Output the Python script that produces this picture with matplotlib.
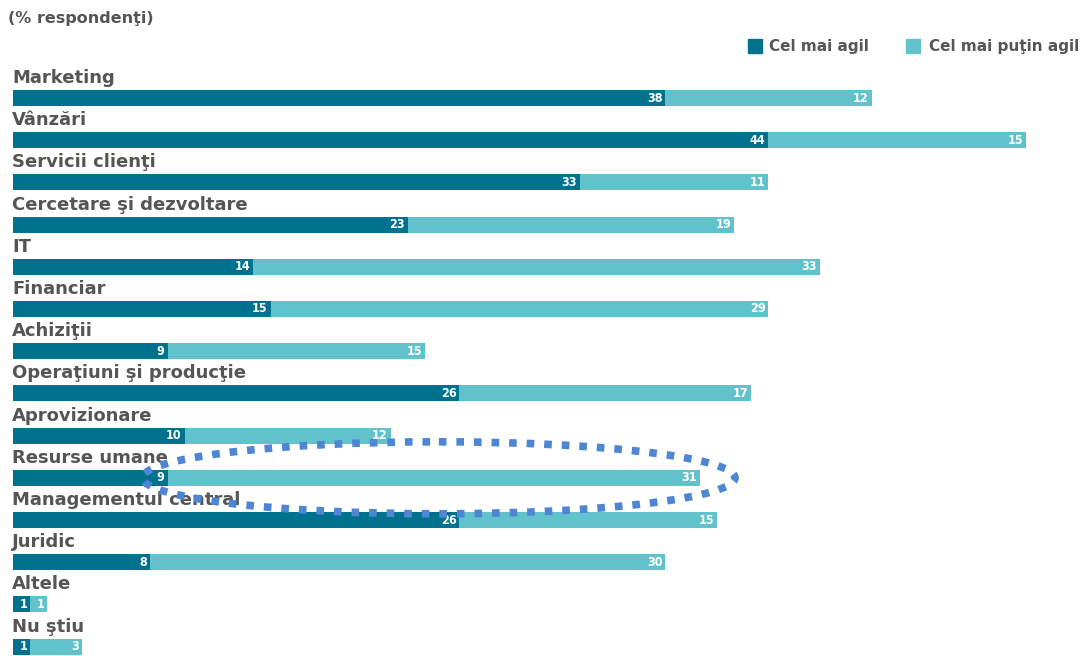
import matplotlib
matplotlib.use("Agg")
import matplotlib.pyplot as plt
from matplotlib.patches import Ellipse, Rectangle

categories = [
    "Marketing", "Vânzări", "Servicii clienţi", "Cercetare şi dezvoltare", "IT",
    "Financiar", "Achiziţii", "Operaţiuni şi producţie", "Aprovizionare",
    "Resurse umane", "Managementul central", "Juridic", "Altele", "Nu ştiu",
]
most_agile = [38, 44, 33, 23, 14, 15, 9, 26, 10, 9, 26, 8, 1, 1]
least_agile = [12, 15, 11, 19, 33, 29, 15, 17, 12, 31, 15, 30, 1, 3]
series_names = ["Cel mai agil", "Cel mai puţin agil"]
unit_note = "(% respondenţi)"
highlighted = "Resurse umane"

DARK = "#00728e"
LIGHT = "#62c2cc"
TEXT = "#555555"
RING = "#4f86d4"

W, H = 1084, 656
fig = plt.figure(figsize=(W / 100, H / 100), dpi=100)
x0 = 13
ax = fig.add_axes([x0 / W, 0, (W - x0) / W, 1])
ax.set_xlim(0, (W - x0) / 17.17)
row = 42.2
ax.set_ylim((H - 98) / row, -98 / row)
ax.axis("off")

ypos = list(range(len(categories)))
bh = 16 / row
ax.barh(ypos, most_agile, height=bh, color=DARK, zorder=2)
ax.barh(ypos, least_agile, left=most_agile, height=bh, color=LIGHT, zorder=2)

val_font = dict(color="white", fontsize=9, fontweight="bold",
                family="DejaVu Sans", fontstretch="condensed")
for y, name, a, b in zip(ypos, categories, most_agile, least_agile):
    ax.annotate(name, (0, y), xytext=(-1, 15), textcoords="offset pixels",
                ha="left", va="baseline", fontsize=13, fontweight="bold",
                color=TEXT, zorder=3)
    ax.annotate(str(a), (a, y), xytext=(-3, 0), textcoords="offset pixels",
                ha="right", va="center", zorder=3, **val_font)
    ax.annotate(str(b), (a + b, y), xytext=(-3, 0), textcoords="offset pixels",
                ha="right", va="center", zorder=3, **val_font)

# dotted ring around the highlighted row
hi = categories.index(highlighted)
ring = Ellipse((24.8, hi), 34.5, 72 / row, fill=False, edgecolor=RING,
               lw=5.5, linestyle=(0, (1.0, 1.3)), zorder=6, clip_on=False)
ax.add_patch(ring)

# header note
fig.text(8 / W, 1 - 23 / H, unit_note, ha="left", va="baseline",
         fontsize=11.5, fontweight="bold", color=TEXT)

# legend
for (sx, tx), name, col in zip([(748, 769), (906, 929)], series_names, [DARK, LIGHT]):
    fig.patches.append(Rectangle((sx / W, 1 - 53 / H), 14 / W, 14 / H,
                                 transform=fig.transFigure, color=col))
    fig.text(tx / W, 1 - 46 / H, name, ha="left", va="center",
             fontsize=11, fontweight="bold", color=TEXT)

fig.savefig("out.png", dpi=100, facecolor="white")
